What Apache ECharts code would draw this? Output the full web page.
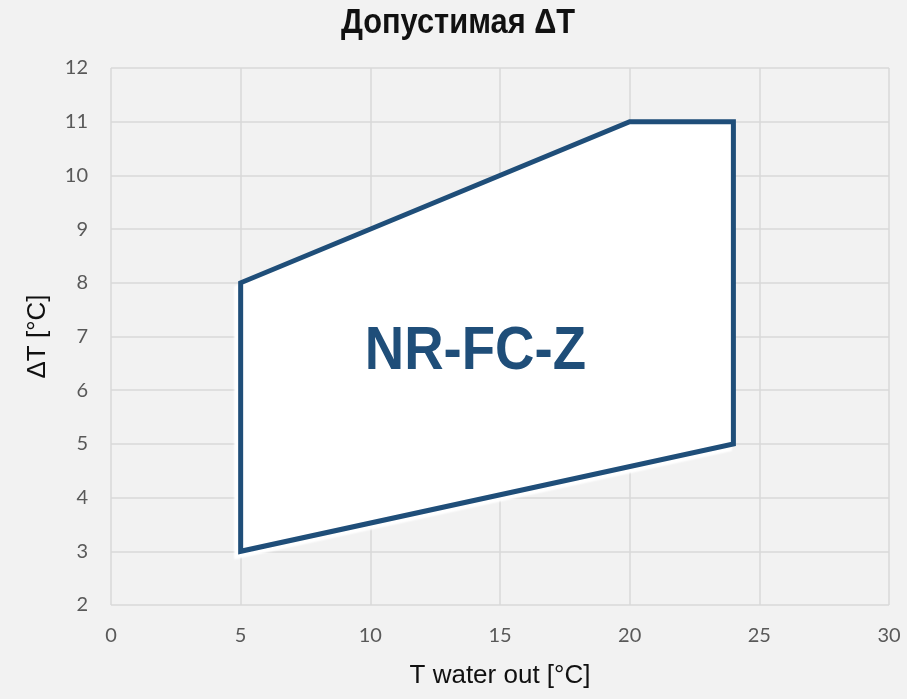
<!DOCTYPE html>
<html><head><meta charset="utf-8">
<script src="https://cdn.jsdelivr.net/npm/echarts@6/dist/echarts.min.js"></script>
<style>html,body{margin:0;padding:0;background:#f2f2f2}#c{width:907px;height:699px}</style>
</head><body><div id="c"></div>
<script>
const titleText = 'Допустимая ΔT';
const xName = 'T water out [°C]';
const yName = 'ΔT [°C]';
const envelopeX = [5, 5, 20, 24, 24];
const envelopeY = [3, 8, 11, 11, 5];
const labelText = 'NR-FC-Z';
const labelPos = [14.05, 6.72];

const sans = '"Liberation Sans", Arial, sans-serif';
const tickFont = 'Lato, "Open Sans", sans-serif';
const pts = envelopeX.map((x, i) => [x, envelopeY[i]]);

const chart = echarts.init(document.getElementById('c'));
chart.setOption({
  backgroundColor: '#f2f2f2',
  animation: false,
  graphic: [{
    type: 'text', x: 458, y: 23, scaleX: 0.88, silent: true,
    style: { text: titleText, align: 'center', verticalAlign: 'middle',
      font: 'bold 35px ' + sans, fill: '#111' }
  }],
  grid: { left: 111, right: 18, top: 68, bottom: 94 },
  xAxis: {
    type: 'value', min: 0, max: 30, interval: 5,
    name: xName, nameLocation: 'middle', nameGap: 58,
    nameTextStyle: { fontFamily: sans, fontSize: 26, color: '#111' },
    axisLine: { show: false }, axisTick: { show: false },
    axisLabel: { fontFamily: tickFont, fontSize: 20, color: '#595959', margin: 21 },
    splitLine: { lineStyle: { color: '#d9d9d9', width: 1.5 } }
  },
  yAxis: {
    type: 'value', min: 2, max: 12, interval: 1,
    name: yName, nameLocation: 'middle', nameGap: 60, nameRotate: 90,
    nameTextStyle: { fontFamily: sans, fontSize: 26, color: '#111' },
    axisLine: { show: false }, axisTick: { show: false },
    axisLabel: { fontFamily: tickFont, fontSize: 20, color: '#595959', margin: 23 },
    splitLine: { lineStyle: { color: '#d9d9d9', width: 1.5 } }
  },
  series: [
    {
      type: 'custom',
      data: [0],
      renderItem: function (params, api) {
        const p = pts.map(d => api.coord(d));
        return {
          type: 'polygon',
          shape: { points: p },
          style: {
            fill: '#ffffff', stroke: '#1f4e79', lineWidth: 5, lineJoin: 'miter',
            shadowColor: 'rgba(255,255,255,1)', shadowOffsetX: -4, shadowOffsetY: 5, shadowBlur: 2
          }
        };
      },
      z: 3
    },
    {
      type: 'custom',
      data: [labelPos],
      silent: true,
      renderItem: function (params, api) {
        const c = api.coord([api.value(0), api.value(1)]);
        return {
          type: 'text', x: c[0], y: c[1], scaleX: 0.88,
          style: { text: labelText, align: 'center', verticalAlign: 'middle',
            font: 'bold 62px ' + sans, fill: '#1f4e79' }
        };
      },
      z: 5
    }
  ]
});
</script></body></html>
